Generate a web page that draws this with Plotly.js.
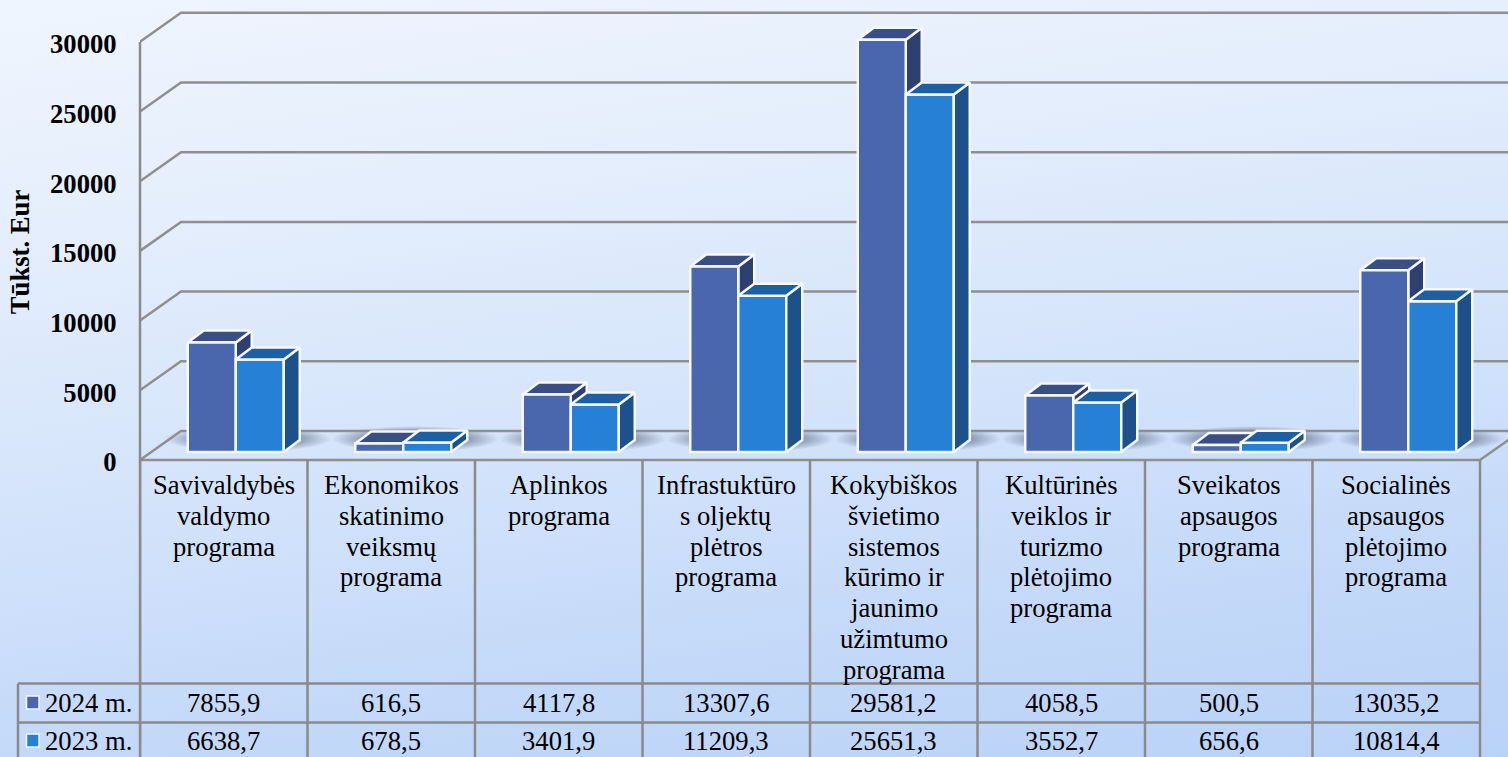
<!DOCTYPE html>
<html><head><meta charset="utf-8">
<script src="https://cdn.plot.ly/plotly-3.0.1.min.js"></script>
<style>
html,body{margin:0;padding:0;width:1508px;height:757px;overflow:hidden;
background:linear-gradient(172deg,#eff5fe 0%,#e6effc 22%,#d6e5fb 50%,#c4d9f9 78%,#b9d2f7 100%);}
#c{width:1508px;height:757px;}
</style></head><body><div id="c"></div>
<script>
const categories = [
  ["Savivaldybės","valdymo","programa"],
  ["Ekonomikos","skatinimo","veiksmų","programa"],
  ["Aplinkos","programa"],
  ["Infrastuktūro","s oljektų","plėtros","programa"],
  ["Kokybiškos","švietimo","sistemos","kūrimo ir","jaunimo","užimtumo","programa"],
  ["Kultūrinės","veiklos ir","turizmo","plėtojimo","programa"],
  ["Sveikatos","apsaugos","programa"],
  ["Socialinės","apsaugos","plėtojimo","programa"]
];
const values2024 = [7855.9,616.5,4117.8,13307.6,29581.2,4058.5,500.5,13035.2];
const values2023 = [6638.7,678.5,3401.9,11209.3,25651.3,3552.7,656.6,10814.4];
const labels2024 = ["7855,9","616,5","4117,8","13307,6","29581,2","4058,5","500,5","13035,2"];
const labels2023 = ["6638,7","678,5","3401,9","11209,3","25651,3","3552,7","656,6","10814,4"];
const yTicks = [0,5000,10000,15000,20000,25000,30000];

const W=1508,H=757,L=140,catW=167.5,y0=460,plotH=504;
const k=418.2/30000;
const X=p=>p/catW, Y=p=>p/k;
const paperX=p=>(p-L)/(W-L), paperY=p=>(plotH-p)/plotH;
const idx=categories.map((_,i)=>i);
const F="'Liberation Serif','Times New Roman',serif";
const grid="#8f8f8f", tbl="#8a8a8a", edge="#f4f8ff";
const xr=[-0.5,-0.5+X(W-L)];
const wallX=X(41), wallY=Y(29);

const barW=X(48), off1=X(-36), off2=off1+barW;
const baseV=Y(8), bx=X(16), by=Y(12);

function faces(vals,off){
  const t={x:[],y:[]}, s={x:[],y:[]};
  vals.forEach((v,i)=>{
    const a=i+off,b=a+barW,h=baseV+v;
    t.x.push(a,b,b+bx,a+bx,a,null); t.y.push(h,h,h+by,h+by,h,null);
    s.x.push(b,b+bx,b+bx,b,b,null); s.y.push(h,h+by,baseV+by,baseV,h,null);
  });
  return [t,s];
}
function poly(f,color,axes){
  return Object.assign({type:'scatter',mode:'lines',x:f.x,y:f.y,fill:'toself',fillcolor:color,
    line:{color:edge,width:2.5},hoverinfo:'skip',showlegend:false},axes||{});
}
const [t1,s1]=faces(values2024,off1), [t2,s2]=faces(values2023,off2);
const overlayAxes={xaxis:'x2',yaxis:'y2'};

const gridTrace={type:'scatter',mode:'lines',hoverinfo:'skip',showlegend:false,
  line:{color:grid,width:2.5},x:[],y:[]};
yTicks.forEach(v=>{
  gridTrace.x.push(-0.5,-0.5+wallX,7.5+wallX,null);
  gridTrace.y.push(v,v+wallY,v+wallY,null);
});
gridTrace.x.push(-0.5,7.5,7.5+wallX);
gridTrace.y.push(0,0,wallY);

const data=[
  gridTrace,
  poly(s1,'#2f3f6f'), poly(t1,'#3a4e84'),
  {type:'bar',name:'2024 m.',x:idx,y:values2024,base:idx.map(()=>baseV),width:barW,offset:off1,
   marker:{color:'#4a66ad',line:{color:edge,width:2.5}},hoverinfo:'skip',xaxis:'x2',yaxis:'y2'},
  {type:'bar',name:'2023 m.',x:idx,y:values2023,base:idx.map(()=>baseV),width:barW,offset:off2,
   marker:{color:'#2680d6',line:{color:edge,width:2.5}},hoverinfo:'skip',xaxis:'x2',yaxis:'y2'},
  poly(s2,'#1c5289',overlayAxes), poly(t2,'#1e5fa3',overlayAxes)
];

const shapes=[];
const ln=(x0,y0_,x1,y1,xref)=>shapes.push({type:'line',xref:xref||'paper',yref:'paper',
  x0,x1,y0:paperY(y0_),y1:paperY(y1),line:{color:tbl,width:2.5},layer:'above'});
ln(paperX(140),42,paperX(140),760);
for(let i=0;i<=8;i++) ln(i-0.5,460,i-0.5,760,'x');
ln(paperX(18),683.5,paperX(1480),683.5);
ln(paperX(18),722.5,paperX(1480),722.5);
ln(paperX(18),683.5,paperX(18),760);
[[696,'#4a66ad'],[734,'#2680d6']].forEach(([p,c])=>shapes.push({type:'rect',xref:'paper',yref:'paper',
  x0:paperX(26.5),x1:paperX(39),y0:paperY(p),y1:paperY(p+13),fillcolor:c,line:{color:edge,width:1.5},layer:'above'}));

const annotations=[];
const note=(text,x,xref,p,xanchor)=>annotations.push({text,x,xref,y:paperY(p),yref:'paper',xanchor,yanchor:'middle',
  showarrow:false,font:{family:F,size:26.67,color:'#000'},borderpad:0,borderwidth:0});
categories.forEach((lines,i)=>lines.forEach((s,j)=>note(s,i,'x',485+30.8*j,'center')));
labels2024.forEach((s,i)=>note(s,i,'x',703,'center'));
labels2023.forEach((s,i)=>note(s,i,'x',741,'center'));
note('2024 m.',paperX(45),'paper',703,'left');
note('2023 m.',paperX(45),'paper',741,'left');

const shadowSvg="data:image/svg+xml;utf8,"+encodeURIComponent(
 '<svg xmlns="http://www.w3.org/2000/svg" width="200" height="40"><defs><radialGradient id="g"><stop offset="0" stop-color="#5a667e" stop-opacity="0.8"/><stop offset="0.6" stop-color="#5a667e" stop-opacity="0.6"/><stop offset="1" stop-color="#5a667e" stop-opacity="0"/></radialGradient></defs><ellipse cx="100" cy="20" rx="100" ry="20" fill="url(#g)"/></svg>');
const images=idx.map(i=>({source:shadowSvg,xref:'x',yref:'y',x:i+X(24),y:Y(460-439),sizex:X(168),sizey:Y(26),
  xanchor:'center',yanchor:'middle',sizing:'stretch',layer:'below'}));

const yr=[Y(y0-plotH),Y(y0)];
const layout={
  width:W,height:H,margin:{l:L,r:0,t:0,b:H-plotH,pad:0},
  paper_bgcolor:'rgba(0,0,0,0)',plot_bgcolor:'rgba(0,0,0,0)',showlegend:false,
  font:{family:F,color:'#000'},
  xaxis:{range:xr,showgrid:false,zeroline:false,showline:false,showticklabels:false,ticks:''},
  xaxis2:{range:xr,overlaying:'x',visible:false},
  yaxis:{range:yr,tickvals:yTicks,ticktext:yTicks.map(String),showgrid:false,zeroline:false,showline:false,
    ticks:'outside',ticklen:17,tickcolor:'rgba(0,0,0,0)',ticklabelshift:2,
    tickfont:{family:F,size:26.67,weight:'bold',color:'#000'},
    title:{text:'Tūkst. Eur',standoff:12,font:{family:F,size:26.67,weight:'bold',color:'#000'}}},
  yaxis2:{range:yr,overlaying:'y',visible:false},
  shapes,annotations,images
};
Plotly.newPlot('c',data,layout,{displayModeBar:false,staticPlot:true});
</script></body></html>
